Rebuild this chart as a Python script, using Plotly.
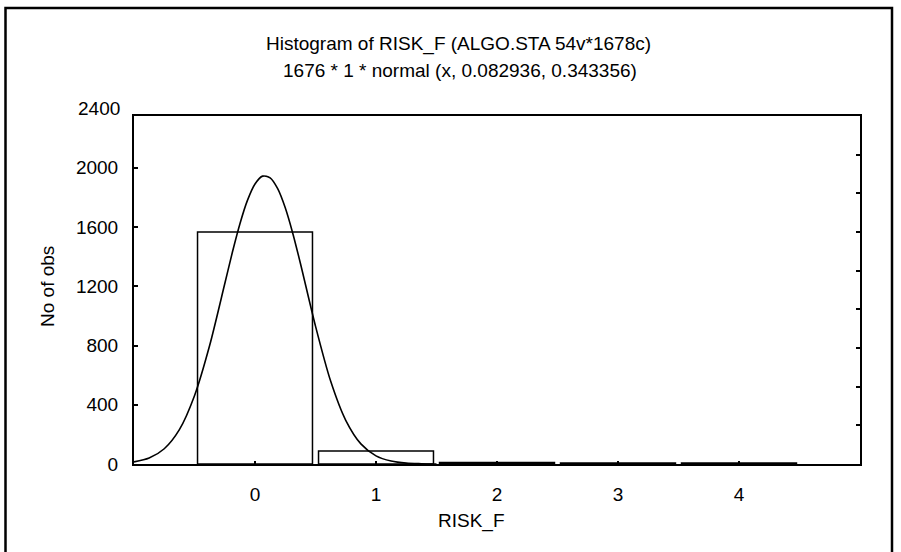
import plotly.graph_objects as go

# ---- data ----
categories = [0, 1, 2, 3, 4]
counts = [1566, 88, 10, 6, 6]

curve_x = [-1.0, -0.875, -0.75, -0.625, -0.5, -0.375, -0.25, -0.1875, -0.125,
           -0.0625, 0.0, 0.0625, 0.125, 0.1875, 0.25, 0.3125, 0.375, 0.5,
           0.625, 0.75, 0.875, 1.0, 1.125, 1.25, 1.375, 1.5]
curve_y = [14, 40, 103, 232, 461, 800, 1217, 1428, 1621,
           1780, 1891, 1944, 1932, 1859, 1730, 1557, 1356, 931,
           560, 295, 136, 55, 20, 6, 2, 0]

y_tick_vals = [0, 400, 800, 1200, 1600, 2000]
y_tick_text = ["0", "400", "800", "1200", "1600", "2000"]
x_tick_vals = [0, 1, 2, 3, 4]
x_tick_text = ["0", "1", "2", "3", "4"]

title_line1 = "Histogram of RISK_F (ALGO.STA 54v*1678c)"
title_line2 = "1676 * 1 * normal (x, 0.082936, 0.343356)"
x_title = "RISK_F"
y_title = "No of obs"

# ---- geometry (pixels) ----
W, H = 901, 552
L, R, T, B = 134, 860, 116, 464
PW, PH = R - L, B - T


def px(x):
    return (x - L) / PW


def py(y):
    return (B - y) / PH


FONT = "Liberation Sans, Arial, sans-serif"
FS = 19

fig = go.Figure()
fig.add_trace(go.Bar(
    x=categories, y=counts, width=0.95,
    marker=dict(color="white", line=dict(color="black", width=1.5)),
    showlegend=False, hoverinfo="skip"))
fig.add_trace(go.Scatter(
    x=curve_x, y=curve_y, mode="lines",
    line=dict(color="black", width=1.6, shape="spline", smoothing=0.8),
    showlegend=False, hoverinfo="skip", cliponaxis=True))
# helper trace for right-side tick axis
fig.add_trace(go.Scatter(x=[-2], y=[-1], yaxis="y2", mode="markers",
                         marker=dict(opacity=0), showlegend=False,
                         hoverinfo="skip"))

fig.update_layout(
    width=W, height=H,
    margin=dict(l=L, r=W - R, t=T, b=H - B, pad=0),
    paper_bgcolor="white", plot_bgcolor="white",
    font=dict(family=FONT, size=FS, color="black"),
    xaxis=dict(range=[-1, 5], tickvals=x_tick_vals, ticktext=x_tick_text,
               ticks="inside", ticklen=3, tickwidth=1.5, tickcolor="black",
               showline=True, linecolor="black", linewidth=2, mirror=True,
               showgrid=False, zeroline=False, ticklabelstandoff=12,
               tickfont=dict(family=FONT, size=FS, color="black")),
    yaxis=dict(range=[0, 2350], tickvals=y_tick_vals, ticktext=y_tick_text,
               ticks="inside", ticklen=4, tickwidth=1.5, tickcolor="black",
               showline=True, linecolor="black", linewidth=2, mirror=True,
               showgrid=False, zeroline=False, ticklabelstandoff=10,
               tickfont=dict(family=FONT, size=FS, color="black")),
    yaxis2=dict(overlaying="y", side="right", range=[0, 9],
                tickvals=[1, 2, 3, 4, 5, 6, 7, 8], ticks="inside",
                ticklen=4, tickwidth=1.5, tickcolor="black",
                showticklabels=False, showline=False, showgrid=False,
                zeroline=False),
    bargap=0.05,
)

ann = dict(xref="paper", yref="paper", showarrow=False,
           font=dict(family=FONT, size=FS, color="black"))
fig.add_annotation(text=title_line1, x=px(458), y=py(44), xanchor="center",
                   yanchor="middle", **ann)
fig.add_annotation(text=title_line2, x=px(460), y=py(71), xanchor="center",
                   yanchor="middle", **ann)
fig.add_annotation(text=x_title, x=px(471), y=py(521), xanchor="center",
                   yanchor="middle", **ann)
fig.add_annotation(text=y_title, x=px(47), y=py(287), xanchor="center",
                   yanchor="middle", textangle=-90, **ann)
fig.add_annotation(text="2400", x=px(122), y=py(108), xanchor="right",
                   yanchor="middle", **ann)

# outer frame
fig.add_shape(type="rect", xref="paper", yref="paper",
              x0=px(5.5), x1=px(892), y0=py(570), y1=py(8),
              line=dict(color="black", width=2.5), fillcolor="rgba(0,0,0,0)",
              layer="below")

fig.write_html("out.html",
               config={"displayModeBar": False},
               post_script="document.body.style.margin='0';"
                           "document.body.style.overflow='hidden';")
